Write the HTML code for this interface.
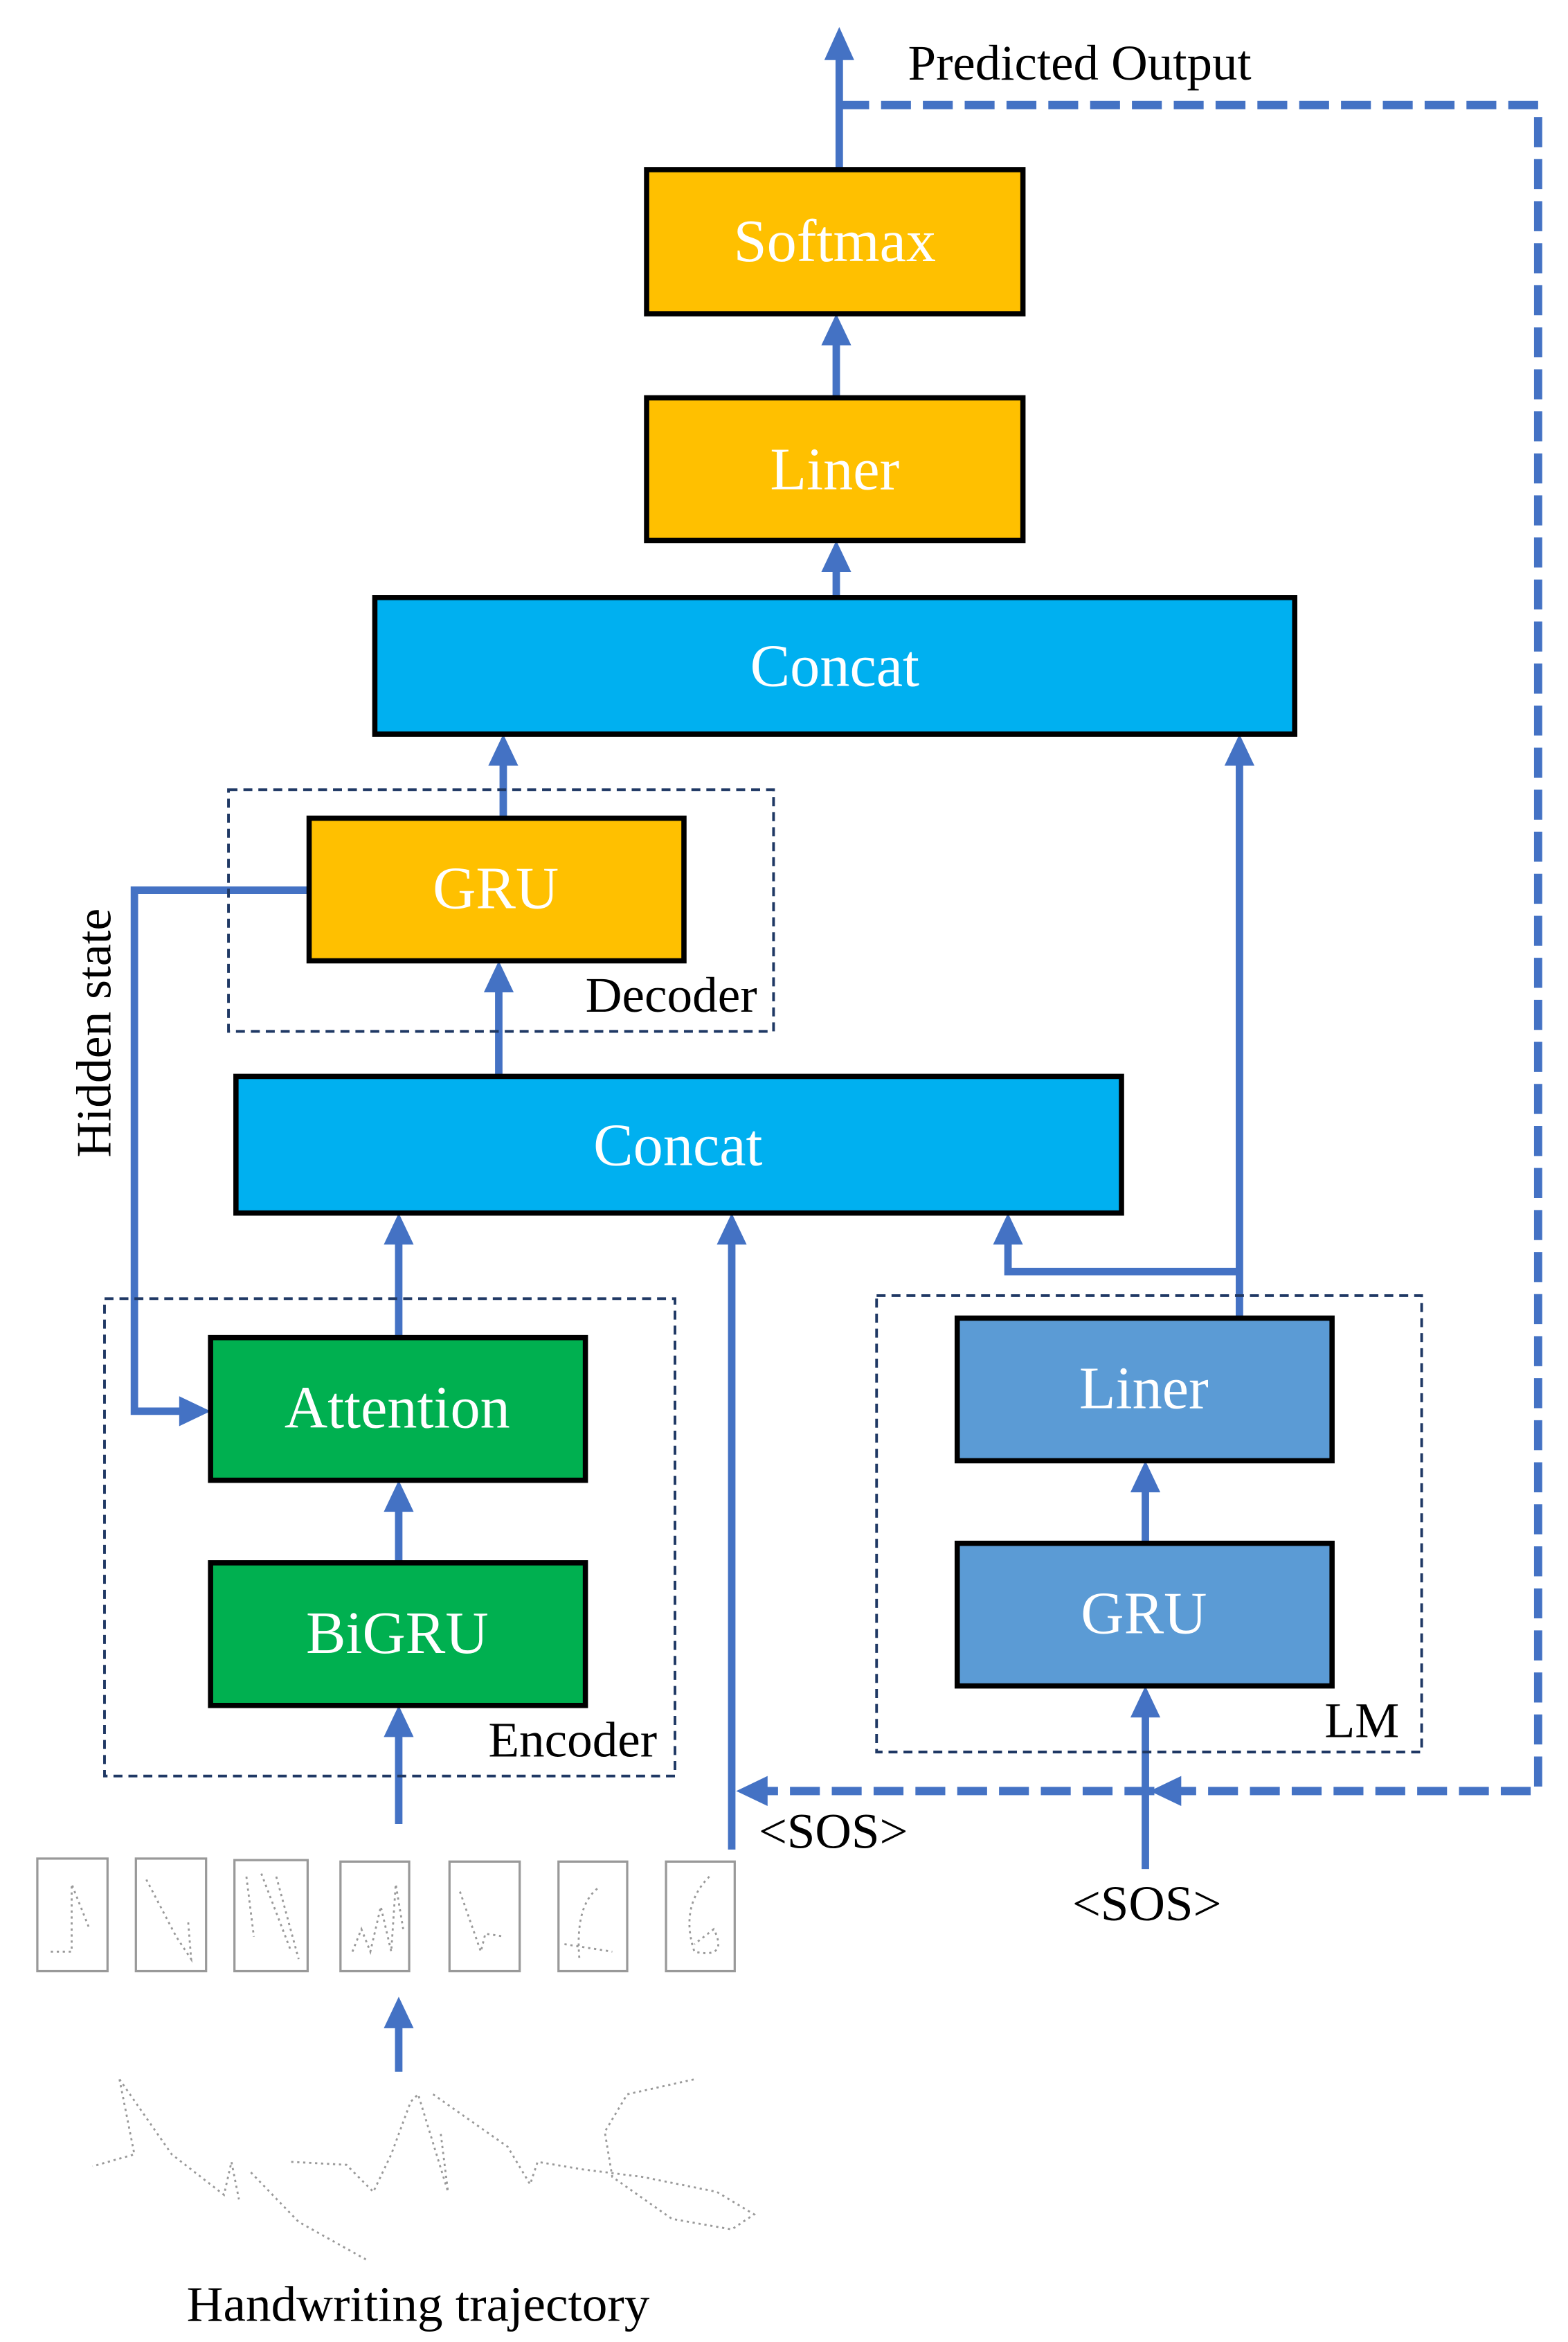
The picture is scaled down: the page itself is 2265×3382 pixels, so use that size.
<!DOCTYPE html>
<html><head><meta charset="utf-8"><style>
html,body{margin:0;padding:0;background:#fff;}
svg{display:block;}
text{font-family:"Liberation Serif",serif;}
</style></head><body>
<svg width="2265" height="3382" viewBox="0 0 1050 1560" preserveAspectRatio="none" xmlns="http://www.w3.org/2000/svg">
<g fill="none" stroke="#4472C4" stroke-width="5">
<path d="M562 112 L562 35"/>
<path d="M560 265 L560 225"/>
<path d="M560 398 L560 376"/>
<path d="M337 545 L337 505"/>
<path d="M334 717 L334 656"/>
<path d="M207 593 L90 593 L90 940 L125 940"/>
<path d="M267 1041 L267 1002"/>
<path d="M267 891 L267 824"/>
<path d="M267 1215 L267 1152"/>
<path d="M490 1232 L490 824"/>
<path d="M767 1028 L767 989"/>
<path d="M767 1245 L767 1139"/>
<path d="M830 878 L830 505"/>
<path d="M830 847 L675 847 L675 824"/>
<path d="M267 1380 L267 1346"/>
<path d="M562 70 L1030 70 L1030 1193 L508 1193" stroke-width="5.5" stroke-dasharray="20 8"/>
</g>
<g fill="#4472C4">
<polygon points="562,18 552,40 572,40"/>
<polygon points="560,209 550,230 570,230"/>
<polygon points="560,360 550,381 570,381"/>
<polygon points="337,489 327,510 347,510"/>
<polygon points="334,640 324,661 344,661"/>
<polygon points="141,940 120,930 120,950"/>
<polygon points="267,986 257,1007 277,1007"/>
<polygon points="267,808 257,829 277,829"/>
<polygon points="267,1136 257,1157 277,1157"/>
<polygon points="490,808 480,829 500,829"/>
<polygon points="767,973 757,994 777,994"/>
<polygon points="767,1123 757,1144 777,1144"/>
<polygon points="830,489 820,510 840,510"/>
<polygon points="675,808 665,829 685,829"/>
<polygon points="267,1330 257,1351 277,1351"/>
<polygon points="493,1193 514,1183 514,1203"/>
<polygon points="770,1193 791,1183 791,1203"/>
</g>
<g fill="none" stroke="#1F3864" stroke-width="1.8" stroke-dasharray="6 4">
<rect x="153" y="526" width="365" height="161"/>
<rect x="70" y="865" width="382" height="318"/>
<rect x="587" y="863" width="365" height="304"/>
</g>
<g stroke="#000" stroke-width="3.5">
<rect x="433" y="113" width="252" height="96" fill="#FFC000"/>
<rect x="433" y="265" width="252" height="95" fill="#FFC000"/>
<rect x="251" y="398" width="616" height="91" fill="#00B0F0"/>
<rect x="207" y="545" width="251" height="95" fill="#FFC000"/>
<rect x="158" y="717" width="593" height="91" fill="#00B0F0"/>
<rect x="141" y="891" width="251" height="95" fill="#00B050"/>
<rect x="141" y="1041" width="251" height="95" fill="#00B050"/>
<rect x="641" y="878" width="251" height="95" fill="#5B9BD5"/>
<rect x="641" y="1028" width="251" height="95" fill="#5B9BD5"/>
</g>
<g fill="#fff" font-size="40" text-anchor="middle">
<text x="559" y="174">Softmax</text>
<text x="559" y="326">Liner</text>
<text x="559" y="457">Concat</text>
<text x="332" y="605">GRU</text>
<text x="454" y="776">Concat</text>
<text x="266" y="951">Attention</text>
<text x="266" y="1101">BiGRU</text>
<text x="766" y="938">Liner</text>
<text x="766" y="1088">GRU</text>
</g>
<g fill="#000" font-size="33">
<text x="608" y="53" textLength="230" lengthAdjust="spacingAndGlyphs">Predicted Output</text>
<text x="392" y="674" textLength="115" lengthAdjust="spacingAndGlyphs">Decoder</text>
<text x="327" y="1170" textLength="113" lengthAdjust="spacingAndGlyphs">Encoder</text>
<text x="887" y="1157" textLength="50" lengthAdjust="spacingAndGlyphs">LM</text>
<text x="508" y="1231" textLength="100" lengthAdjust="spacingAndGlyphs">&lt;SOS&gt;</text>
<text x="718" y="1279" textLength="100" lengthAdjust="spacingAndGlyphs">&lt;SOS&gt;</text>
<text x="125" y="1546" textLength="310" lengthAdjust="spacingAndGlyphs">Handwriting trajectory</text>
<text transform="translate(74 688) rotate(-90)" text-anchor="middle">Hidden state</text>
</g>
<g fill="none" stroke="#999" stroke-width="1.5">
<rect x="25" y="1238" width="47" height="75"/>
<rect x="91" y="1238" width="47" height="75"/>
<rect x="157" y="1239" width="49" height="74"/>
<rect x="228" y="1240" width="46" height="73"/>
<rect x="301" y="1240" width="47" height="73"/>
<rect x="374" y="1240" width="46" height="73"/>
<rect x="446" y="1240" width="46" height="73"/>
</g>
<g fill="none" stroke="#999" stroke-width="1.3" stroke-dasharray="1.5 2.5">
<path d="M34 1300 L48 1300 L48 1255 L60 1285"/>
<path d="M98 1252 L118 1290 L128 1305 L126 1280"/>
<path d="M165 1250 L170 1290 M175 1248 L195 1300 M185 1250 L200 1305"/>
<path d="M236 1300 L242 1285 L248 1300 L255 1270 L262 1300 L265 1255 L270 1285"/>
<path d="M308 1260 L322 1300 L325 1288 L338 1290"/>
<path d="M400 1258 Q385 1270 388 1305 M378 1295 L410 1300"/>
<path d="M475 1250 Q455 1270 465 1300 Q488 1305 478 1285 L465 1295"/>
<path d="M80 1385 L90 1435 L62 1443 M80 1385 L115 1435 L150 1462 L155 1440 L160 1465 M168 1447 L200 1480 L245 1505 M195 1440 L232 1442 L250 1460 L262 1435 L275 1400 L280 1395 L300 1460 L295 1420 M290 1395 L340 1430 L355 1455 L360 1440 L390 1445 L430 1450 L480 1460 L505 1475 L490 1485 L450 1478 L410 1450 L405 1420 L420 1395 L465 1385"/>
</g>
</svg>
</body></html>
